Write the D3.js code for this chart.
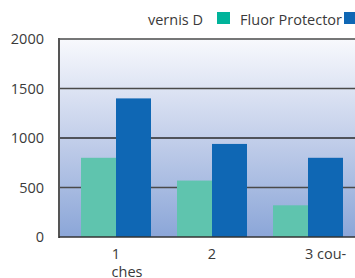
<!DOCTYPE html>
<html>
<head>
<meta charset="utf-8">
<script src="https://cdn.jsdelivr.net/npm/d3@7"></script>
<style>
  body { margin: 0; background: #fff; }
  text { font-family: "Open Sans", sans-serif; fill: #3a3a3a; }
</style>
</head>
<body>
<script>
// DATA
const categories = ['1', '2', '3'];
const tickLabels = ['1', '2', '3 cou-'];
const series = ['vernis D', 'Fluor Protector'];
const vernisD = [800, 570, 320];
const fluorProtector = [1400, 940, 800];
const yTicks = [0, 500, 1000, 1500, 2000];

// CONFIGURATION
const width = 355;
const height = 278;
const plotLeft = 59;
const plotTop = 39;
const plotBottom = 237;
const fontSize = '14.5px';
const barColors = ['#5fc4ae', '#0f67b4'];
const legendColors = ['#00b39a', '#0f67b4'];

const x0 = d3.scaleBand().domain(categories).range([68, 356]);
const x1 = d3.scaleBand().domain(series).range([13, 83]);
const y = d3.scaleLinear().domain([0, 2000]).range([plotBottom, plotTop]);

const svg = d3.select('body')
  .append('svg')
  .attr('width', width)
  .attr('height', height);

// BACKGROUND
const grad = svg.append('defs').append('linearGradient')
  .attr('id', 'bg')
  .attr('x1', 0).attr('y1', 0).attr('x2', 0).attr('y2', 1);
grad.append('stop').attr('offset', '0%').attr('stop-color', '#f8f9fd');
grad.append('stop').attr('offset', '50%').attr('stop-color', '#c3cfea');
grad.append('stop').attr('offset', '100%').attr('stop-color', '#8ba6d8');

svg.append('rect')
  .attr('x', plotLeft)
  .attr('y', plotTop)
  .attr('width', width - plotLeft)
  .attr('height', plotBottom - plotTop)
  .attr('fill', 'url(#bg)');

// GRID
svg.append('g')
  .selectAll('line')
  .data(yTicks.filter(d => d > 0))
  .enter()
  .append('line')
  .attr('x1', plotLeft)
  .attr('x2', width)
  .attr('y1', d => y(d))
  .attr('y2', d => y(d))
  .attr('stroke', d => d === 1000 ? '#2a2a2a' : '#4a4a4a')
  .attr('stroke-width', 1.3);

// Y AXIS
const yAxis = d3.axisLeft(y)
  .tickValues(yTicks)
  .tickFormat(d3.format('d'))
  .tickSize(0)
  .tickPadding(15);
const gy = svg.append('g')
  .attr('transform', `translate(${plotLeft},0)`)
  .call(yAxis);
gy.select('.domain').remove();
gy.selectAll('text')
  .style('font-size', fontSize)
  .attr('fill', '#3a3a3a');

// BARS
const groups = svg.append('g')
  .selectAll('g')
  .data(categories)
  .enter()
  .append('g')
  .attr('transform', d => `translate(${x0(d)},0)`);

groups.selectAll('rect')
  .data((d, i) => [
    { key: series[0], value: vernisD[i] },
    { key: series[1], value: fluorProtector[i] }
  ])
  .enter()
  .append('rect')
  .attr('x', d => x1(d.key))
  .attr('width', x1.bandwidth())
  .attr('y', d => y(d.value))
  .attr('height', d => y(0) - y(d.value))
  .attr('fill', (d, i) => barColors[i]);

// AXIS LINES
svg.append('line')
  .attr('x1', plotLeft).attr('x2', plotLeft)
  .attr('y1', plotTop - 1).attr('y2', plotBottom + 1)
  .attr('stroke', '#555')
  .attr('stroke-width', 2);
svg.append('line')
  .attr('x1', plotLeft).attr('x2', width)
  .attr('y1', plotBottom).attr('y2', plotBottom)
  .attr('stroke', '#333')
  .attr('stroke-width', 1.3);

// X LABELS
const xAxis = d3.axisBottom(x0)
  .tickSize(0)
  .tickPadding(12)
  .tickFormat((d, i) => tickLabels[i]);
const gx = svg.append('g')
  .attr('transform', `translate(0,${plotBottom})`)
  .call(xAxis);
gx.select('.domain').remove();
gx.selectAll('text')
  .style('font-size', fontSize)
  .attr('fill', '#3a3a3a')
  .attr('text-anchor', (d, i) => i === 2 ? 'start' : 'middle')
  .attr('dx', (d, i) => i === 2 ? -3 : 0);
svg.append('text')
  .attr('x', x0('1') + x0.bandwidth() / 2 + 11)
  .attr('y', 277)
  .attr('text-anchor', 'middle')
  .style('font-size', fontSize)
  .text('ches');

// LEGEND
const legend = svg.append('g');
legend.append('text')
  .attr('x', 203).attr('y', 25)
  .attr('text-anchor', 'end')
  .style('font-size', fontSize)
  .text(series[0]);
legend.append('rect')
  .attr('x', 217).attr('y', 12)
  .attr('width', 13).attr('height', 12)
  .attr('fill', legendColors[0]);
legend.append('text')
  .attr('x', 342).attr('y', 25)
  .attr('text-anchor', 'end')
  .style('font-size', fontSize)
  .text(series[1]);
legend.append('rect')
  .attr('x', 344).attr('y', 12)
  .attr('width', 13).attr('height', 12)
  .attr('fill', legendColors[1]);
</script>
</body>
</html>
